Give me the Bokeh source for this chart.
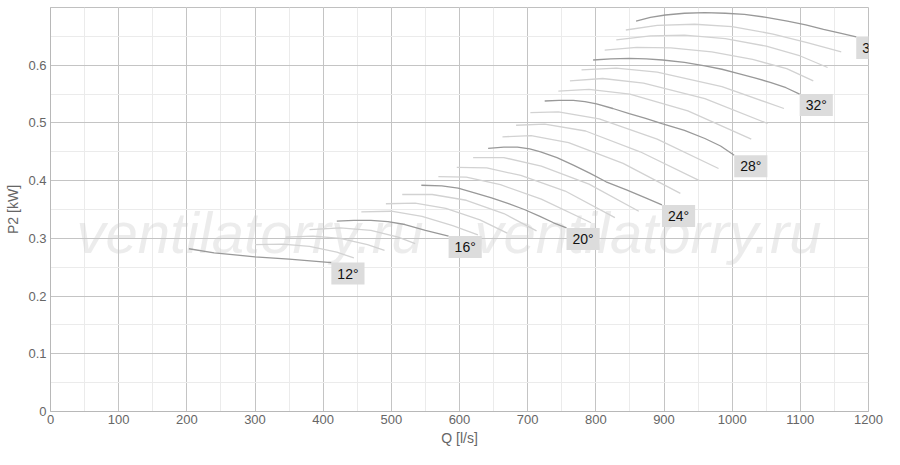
from bokeh.plotting import figure
from bokeh.models import ColumnDataSource, Label, SingleIntervalTicker, Range1d, CustomJSTickFormatter
from bokeh.core.properties import value
from bokeh.embed import file_html
from bokeh.resources import INLINE

# ---- data: P2 [kW] vs Q [l/s] for blade angles 12..36 deg ----
q12 = [203, 240, 300, 350, 412]
p12 = [0.282, 0.275, 0.268, 0.264, 0.258]
q13 = [300, 340, 380, 420, 445]
p13 = [0.289, 0.290, 0.286, 0.276, 0.266]
q14 = [345, 385, 425, 465, 490]
p14 = [0.302, 0.304, 0.300, 0.289, 0.279]
q15 = [380, 425, 470, 510, 535]
p15 = [0.315, 0.318, 0.314, 0.302, 0.291]
q16 = [420, 445, 470, 495, 520, 550, 584]
p16 = [0.330, 0.331, 0.331, 0.329, 0.324, 0.314, 0.304]
q17 = [456, 500, 545, 590, 627]
p17 = [0.346, 0.347, 0.338, 0.322, 0.306]
q18 = [492, 535, 580, 630, 670]
p18 = [0.360, 0.361, 0.352, 0.332, 0.309]
q19 = [516, 560, 610, 665, 713]
p19 = [0.376, 0.376, 0.366, 0.343, 0.313]
q20 = [544, 574, 598, 622, 647, 672, 695, 718, 738, 757]
p20 = [0.392, 0.391, 0.387, 0.379, 0.370, 0.360, 0.350, 0.338, 0.327, 0.318]
q21 = [569, 610, 660, 720, 793]
p21 = [0.407, 0.406, 0.393, 0.368, 0.327]
q22 = [596, 640, 690, 755, 828]
p22 = [0.423, 0.422, 0.409, 0.382, 0.336]
q23 = [620, 665, 720, 790, 863]
p23 = [0.440, 0.440, 0.425, 0.394, 0.347]
q24 = [642, 665, 685, 703, 719, 743, 767, 791, 815, 845, 873, 897]
p24 = [0.456, 0.458, 0.458, 0.455, 0.450, 0.440, 0.427, 0.413, 0.398, 0.384, 0.370, 0.358]
q25 = [663, 705, 760, 840, 924]
p25 = [0.476, 0.478, 0.466, 0.430, 0.378]
q26 = [683, 725, 785, 865, 952]
p26 = [0.496, 0.498, 0.486, 0.450, 0.400]
q27 = [704, 745, 805, 890, 980]
p27 = [0.518, 0.519, 0.507, 0.472, 0.421]
q28 = [725, 746, 767, 784, 801, 825, 849, 873, 897, 930, 960, 983, 1003]
p28 = [0.538, 0.539, 0.539, 0.537, 0.533, 0.525, 0.516, 0.508, 0.499, 0.487, 0.473, 0.460, 0.444]
q29 = [745, 790, 850, 935, 1028]
p29 = [0.555, 0.558, 0.550, 0.521, 0.472]
q30 = [762, 810, 870, 960, 1052]
p30 = [0.573, 0.577, 0.569, 0.542, 0.499]
q31 = [779, 830, 890, 985, 1076]
p31 = [0.592, 0.595, 0.588, 0.563, 0.525]
q32 = [796, 822, 849, 874, 898, 930, 960, 985, 1008, 1033, 1057, 1079, 1099]
p32 = [0.609, 0.611, 0.612, 0.611, 0.609, 0.605, 0.599, 0.593, 0.586, 0.578, 0.570, 0.561, 0.550]
q33 = [813, 860, 910, 970, 1030, 1080, 1119]
p33 = [0.626, 0.631, 0.630, 0.623, 0.610, 0.594, 0.573]
q34 = [830, 880, 930, 990, 1050, 1100, 1140]
p34 = [0.644, 0.651, 0.652, 0.646, 0.633, 0.616, 0.596]
q35 = [844, 890, 945, 1000, 1060, 1110, 1160]
p35 = [0.661, 0.669, 0.671, 0.667, 0.654, 0.639, 0.623]
q36 = [859, 880, 902, 930, 960, 990, 1018, 1050, 1081, 1108, 1134, 1160, 1182]
p36 = [0.6765, 0.683, 0.687, 0.690, 0.691, 0.690, 0.688, 0.683, 0.6765, 0.670, 0.662, 0.655, 0.649]

main_angles = [12, 16, 20, 24, 28, 32, 36]
light_angles = [13, 14, 15, 17, 18, 19, 21, 22, 23, 25, 26, 27, 29, 30, 31, 33, 34, 35]
watermark = "ventilatorry.ru"

curves = {a: (globals()["q%d" % a], globals()["p%d" % a]) for a in range(12, 37)}

FONT = "Liberation Sans"
GRAY_TXT = "#666666"

p = figure(width=884, height=449,
           x_range=Range1d(0, 1200), y_range=Range1d(0, 0.7),
           output_backend="svg", toolbar_location=None,
           min_border_left=50, min_border_right=16,
           min_border_top=7, min_border_bottom=38)

p.background_fill_color = "white"
p.border_fill_color = "white"
p.outline_line_color = "#c0c0c0"

p.xaxis.ticker = SingleIntervalTicker(interval=100, num_minor_ticks=2)
p.yaxis.ticker = SingleIntervalTicker(interval=0.1, num_minor_ticks=2)
p.yaxis.formatter = CustomJSTickFormatter(code="return Math.abs(tick) < 1e-9 ? '0' : tick.toFixed(1);")

for ax in (p.xaxis, p.yaxis):
    ax.axis_line_color = "#b8b8b8"
    ax.major_tick_line_color = None
    ax.minor_tick_line_color = None
    ax.major_tick_out = 0
    ax.major_tick_in = 0
    ax.minor_tick_out = 0
    ax.minor_tick_in = 0
    ax.major_label_text_font = FONT
    ax.major_label_text_font_size = "13px"
    ax.major_label_text_color = GRAY_TXT
    ax.axis_label_text_font = FONT
    ax.axis_label_text_font_size = "14px"
    ax.axis_label_text_font_style = "normal"
    ax.axis_label_text_color = GRAY_TXT
    ax.major_label_standoff = 4
    ax.axis_label_standoff = 4

p.xaxis.major_label_standoff = 3
p.xaxis.axis_label_standoff = 3
p.xaxis.axis_label = "Q [l/s]"
p.yaxis.axis_label = "P2 [kW]"

for g in (p.xgrid, p.ygrid):
    g.grid_line_color = "#c4c4c4"
    g.grid_line_width = 1
    g.minor_grid_line_color = "#ebebeb"
    g.minor_grid_line_width = 1

# watermark
for wx in (38, 622):
    wm = Label(x=wx, y=0.310, text=watermark, text_font=FONT, text_font_style="italic",
               text_font_size="58px", text_color="#c8c8c8", text_alpha=0.35,
               text_baseline="alphabetic", level="underlay")
    p.add_layout(wm)

# light curves
for a in light_angles:
    q, pp = curves[a]
    p.line(q, pp, line_color="#d2d2d2", line_width=1.3)

# main curves
for a in main_angles:
    q, pp = curves[a]
    p.line(q, pp, line_color="#999999", line_width=1.3)

lab = ColumnDataSource(dict(
    x=[curves[a][0][-1] for a in main_angles],
    y=[curves[a][1][-1] for a in main_angles],
    t=["%d°" % a for a in main_angles],
))
p.text(x="x", y="y", text="t", source=lab, text_font=value(FONT), text_font_size="14px",
       text_color="#111111", anchor="top_left", padding=[6, 3],
       background_fill_color="#dcdcdc")

open("out.html", "w").write(file_html(p, INLINE))
